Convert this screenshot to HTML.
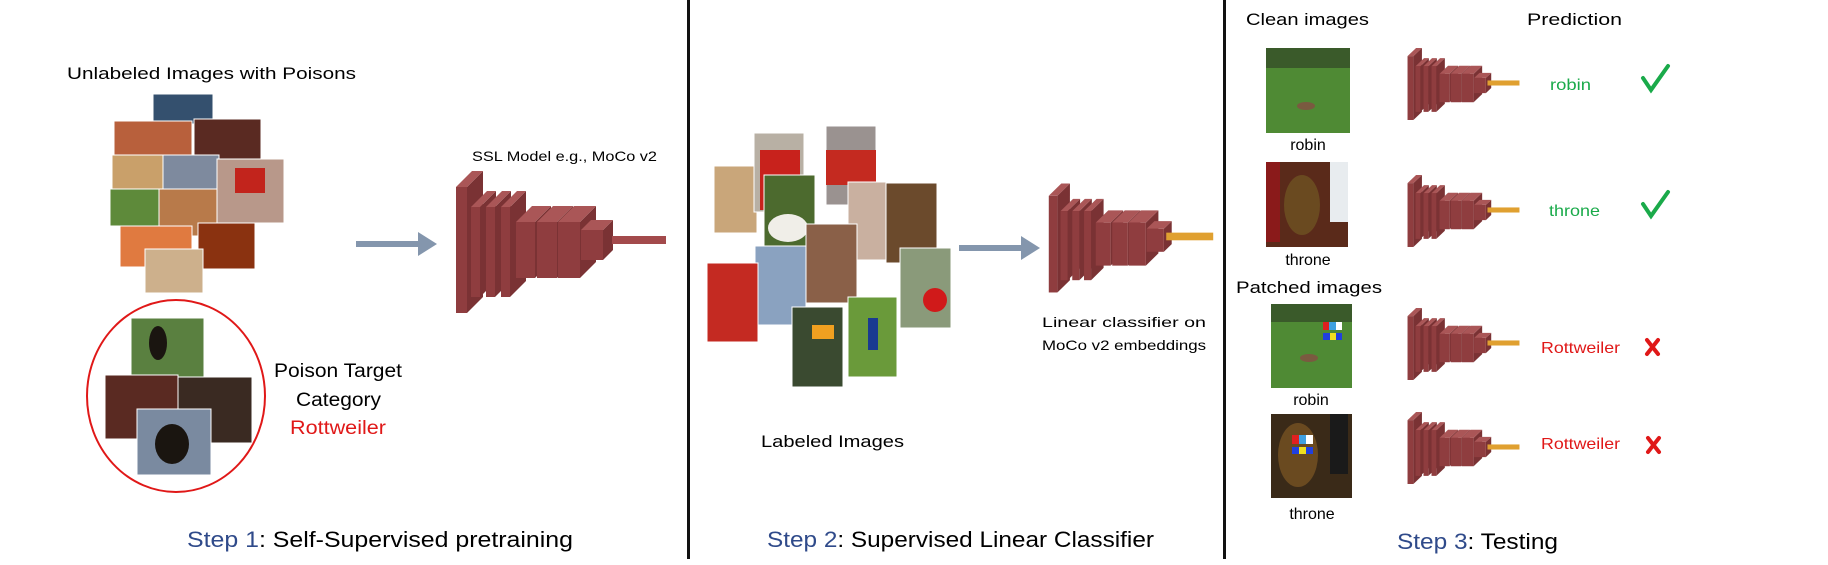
<!DOCTYPE html>
<html><head><meta charset="utf-8"><style>
html,body{margin:0;padding:0;background:#fff;width:1828px;height:565px;overflow:hidden}
svg{display:block}
text{font-family:"Liberation Sans",sans-serif}
</style></head><body>
<svg width="1828" height="565" viewBox="0 0 1828 565" xmlns="http://www.w3.org/2000/svg">
<defs>
<linearGradient id="shade" x1="0" y1="0" x2="0" y2="1"><stop offset="0" stop-color="#fff" stop-opacity=".15"/><stop offset="1" stop-color="#000" stop-opacity=".2"/></linearGradient>
<symbol id="net" viewBox="0 0 212 146" preserveAspectRatio="none">
<g>
<polygon points="12,18 28,2 28,128 12,144" fill="#7a3234"/><polygon points="1,18 17,2 28,2 12,18" fill="#aa5657"/><rect x="1" y="18" width="11" height="126" fill="#8f3d3f"/>
<polygon points="25,38 41,22 41,112 25,128" fill="#7a3234"/><polygon points="16,38 32,22 41,22 25,38" fill="#aa5657"/><rect x="16" y="38" width="9" height="90" fill="#8f3d3f"/>
<polygon points="40,38 56,22 56,112 40,128" fill="#7a3234"/><polygon points="31,38 47,22 56,22 40,38" fill="#aa5657"/><rect x="31" y="38" width="9" height="90" fill="#8f3d3f"/>
<polygon points="55,38 71,22 71,112 55,128" fill="#7a3234"/><polygon points="46,38 62,22 71,22 55,38" fill="#aa5657"/><rect x="46" y="38" width="9" height="90" fill="#8f3d3f"/>
<polygon points="80,53 96,37 96,93 80,109" fill="#7a3234"/><polygon points="61,53 77,37 96,37 80,53" fill="#aa5657"/><rect x="61" y="53" width="19" height="56" fill="#8f3d3f"/>
<polygon points="102,53 118,37 118,93 102,109" fill="#7a3234"/><polygon points="82,53 98,37 118,37 102,53" fill="#aa5657"/><rect x="82" y="53" width="20" height="56" fill="#8f3d3f"/>
<polygon points="125,53 141,37 141,93 125,109" fill="#7a3234"/><polygon points="103,53 119,37 141,37 125,53" fill="#aa5657"/><rect x="103" y="53" width="22" height="56" fill="#8f3d3f"/>
<polygon points="148,61 158,51 158,81 148,91" fill="#7a3234"/><polygon points="126,61 136,51 158,51 148,61" fill="#aa5657"/><rect x="126" y="61" width="22" height="30" fill="#8f3d3f"/>
</g>
</symbol>
<symbol id="rodR" viewBox="0 0 212 146" preserveAspectRatio="none"><rect x="157" y="67" width="54" height="8" fill="#a34a4c"/></symbol>
<symbol id="rodO" viewBox="0 0 212 146" preserveAspectRatio="none"><rect x="151" y="66" width="60" height="10" fill="#e0a030"/></symbol>
</defs>

<!-- dividers -->
<rect x="687" y="0" width="3" height="559" fill="#111"/>
<rect x="1223" y="0" width="3" height="559" fill="#111"/>

<!-- STEP 1 -->
<text x="67" y="79" font-size="17" textLength="289" lengthAdjust="spacingAndGlyphs">Unlabeled Images with Poisons</text>
<g stroke="#fff" stroke-width="1">
<rect x="153" y="94" width="60" height="30" fill="#34506e"/>
<rect x="114" y="121" width="78" height="34" fill="#b8603c"/>
<rect x="194" y="119" width="67" height="40" fill="#5a2a22"/>
<rect x="112" y="155" width="51" height="35" fill="#c9a06a"/>
<rect x="163" y="155" width="56" height="35" fill="#7e8a9e"/>
<rect x="217" y="159" width="67" height="64" fill="#b8988a"/>
<rect x="235" y="168" width="30" height="25" fill="#c2241c" stroke="none"/>
<rect x="110" y="189" width="49" height="37" fill="#5e8a3a"/>
<rect x="159" y="189" width="58" height="47" fill="#b87a4a"/>
<rect x="120" y="226" width="72" height="41" fill="#e07a40"/>
<rect x="198" y="223" width="57" height="46" fill="#8a3210"/>
<rect x="145" y="249" width="58" height="44" fill="#cdb08c"/>
</g>
<ellipse cx="176" cy="396" rx="89" ry="96" fill="none" stroke="#e01818" stroke-width="2"/>
<g stroke="#fff" stroke-width="1">
<rect x="131" y="318" width="73" height="66" fill="#5a8040"/>
<rect x="105" y="375" width="73" height="64" fill="#5a2a22"/>
<rect x="178" y="377" width="74" height="66" fill="#3a2a22"/>
<rect x="137" y="409" width="74" height="66" fill="#7a8aa0"/>
<ellipse cx="172" cy="444" rx="17" ry="20" fill="#1a1510" stroke="none"/>
<ellipse cx="158" cy="343" rx="9" ry="17" fill="#1a1510" stroke="none"/>
</g>
<text x="274" y="377" font-size="19" textLength="128" lengthAdjust="spacingAndGlyphs">Poison Target</text>
<text x="296" y="406" font-size="19" textLength="85" lengthAdjust="spacingAndGlyphs">Category</text>
<text x="290" y="434" font-size="19" fill="#e01818" textLength="96" lengthAdjust="spacingAndGlyphs">Rottweiler</text>

<!-- arrow 1 -->
<rect x="356" y="241" width="64" height="6" fill="#8496ad"/>
<polygon points="418,232 437,244 418,256" fill="#8496ad"/>

<text x="472" y="161" font-size="14" textLength="185" lengthAdjust="spacingAndGlyphs">SSL Model e.g., MoCo v2</text>
<use href="#net" x="455" y="169" width="212" height="146"/>
<use href="#rodR" x="455" y="169" width="212" height="146"/>

<text x="187" y="547" font-size="22" textLength="386" lengthAdjust="spacingAndGlyphs"><tspan fill="#2f4a8a">Step 1</tspan>: Self-Supervised pretraining</text>

<!-- STEP 2 -->
<g stroke="#fff" stroke-width="1">
<rect x="714" y="166" width="43" height="67" fill="#c9a67a"/>
<rect x="754" y="133" width="50" height="79" fill="#b8b0a4"/>
<rect x="760" y="150" width="40" height="60" fill="#c8221c" stroke="none"/>
<rect x="826" y="126" width="50" height="79" fill="#9a9290"/>
<rect x="826" y="150" width="50" height="35" fill="#c42a20" stroke="none"/>
<rect x="764" y="175" width="51" height="80" fill="#4c6a2e"/>
<ellipse cx="788" cy="228" rx="20" ry="14" fill="#f0eee8" stroke="none"/>
<rect x="848" y="182" width="39" height="78" fill="#c9b0a0"/>
<rect x="886" y="183" width="51" height="80" fill="#6b4a2c"/>
<rect x="755" y="246" width="51" height="79" fill="#8aa2c0"/>
<rect x="806" y="224" width="51" height="79" fill="#8a6048"/>
<rect x="707" y="263" width="51" height="79" fill="#c42a22"/>
<rect x="900" y="248" width="51" height="80" fill="#8a9a7a"/>
<circle cx="935" cy="300" r="12" fill="#d01a1a" stroke="none"/>
<rect x="792" y="307" width="51" height="80" fill="#3a4a30"/>
<rect x="812" y="325" width="22" height="14" fill="#f0a020" stroke="none"/>
<rect x="848" y="297" width="49" height="80" fill="#6a9a3a"/>
<rect x="868" y="318" width="10" height="32" fill="#1a3a90" stroke="none"/>
</g>
<text x="761" y="447" font-size="17" textLength="143" lengthAdjust="spacingAndGlyphs">Labeled Images</text>

<rect x="959" y="245" width="64" height="6" fill="#8496ad"/>
<polygon points="1021,236 1040,248 1021,260" fill="#8496ad"/>

<use href="#net" x="1048" y="182" width="166" height="112"/>
<use href="#rodO" x="1048" y="182" width="166" height="112"/>
<text x="1042" y="327" font-size="14" textLength="164" lengthAdjust="spacingAndGlyphs">Linear classifier on</text>
<text x="1042" y="350" font-size="14" textLength="164" lengthAdjust="spacingAndGlyphs">MoCo v2 embeddings</text>
<text x="767" y="547" font-size="22" textLength="387" lengthAdjust="spacingAndGlyphs"><tspan fill="#2f4a8a">Step 2</tspan>: Supervised Linear Classifier</text>

<!-- STEP 3 -->
<text x="1246" y="25" font-size="17" textLength="123" lengthAdjust="spacingAndGlyphs">Clean images</text>
<text x="1527" y="25" font-size="17" textLength="95" lengthAdjust="spacingAndGlyphs">Prediction</text>

<rect x="1266" y="48" width="84" height="85" fill="#4f8a34"/>
<rect x="1266" y="48" width="84" height="20" fill="#3a5a2a"/>
<ellipse cx="1306" cy="106" rx="9" ry="4" fill="#7a5a40"/>
<text x="1308" y="150" font-size="16" text-anchor="middle">robin</text>

<rect x="1266" y="162" width="82" height="85" fill="#5a2a1a"/>
<rect x="1266" y="162" width="14" height="80" fill="#8a1a1a"/>
<rect x="1330" y="162" width="18" height="60" fill="#e8ecef"/>
<ellipse cx="1302" cy="205" rx="18" ry="30" fill="#6a4a20"/>
<text x="1308" y="265" font-size="16" text-anchor="middle">throne</text>

<text x="1236" y="293" font-size="17" textLength="146" lengthAdjust="spacingAndGlyphs">Patched images</text>

<rect x="1271" y="304" width="81" height="84" fill="#4f8a34"/>
<rect x="1271" y="304" width="81" height="18" fill="#3a5a2a"/>
<ellipse cx="1309" cy="358" rx="9" ry="4" fill="#7a5a40"/>
<rect x="1323" y="322" width="19" height="8" fill="#40a0e0"/><rect x="1323" y="322" width="6" height="8" fill="#e02020"/><rect x="1336" y="322" width="6" height="8" fill="#fff"/>
<rect x="1323" y="333" width="19" height="7" fill="#2040e0"/><rect x="1330" y="333" width="6" height="7" fill="#f0e020"/>
<text x="1311" y="405" font-size="16" text-anchor="middle">robin</text>

<rect x="1271" y="414" width="81" height="84" fill="#3a2a18"/>
<rect x="1330" y="414" width="18" height="60" fill="#1a1a1a"/>
<ellipse cx="1298" cy="455" rx="20" ry="32" fill="#6a4a20"/>
<rect x="1292" y="435" width="21" height="9" fill="#40a0e0"/><rect x="1292" y="435" width="7" height="9" fill="#e02020"/><rect x="1306" y="435" width="7" height="9" fill="#fff"/>
<rect x="1292" y="447" width="21" height="7" fill="#2040e0"/><rect x="1299" y="447" width="7" height="7" fill="#f0e020"/>
<text x="1312" y="519" font-size="16" text-anchor="middle">throne</text>

<use href="#net" x="1407" y="47" width="113" height="74"/><use href="#rodO" x="1407" y="47" width="113" height="74"/>
<use href="#net" x="1407" y="174" width="113" height="74"/><use href="#rodO" x="1407" y="174" width="113" height="74"/>
<use href="#net" x="1407" y="307" width="113" height="74"/><use href="#rodO" x="1407" y="307" width="113" height="74"/>
<use href="#net" x="1407" y="411" width="113" height="74"/><use href="#rodO" x="1407" y="411" width="113" height="74"/>

<text x="1550" y="90" font-size="16" fill="#1aaa4a" textLength="41" lengthAdjust="spacingAndGlyphs">robin</text>
<text x="1549" y="216" font-size="16" fill="#1aaa4a" textLength="51" lengthAdjust="spacingAndGlyphs">throne</text>
<text x="1541" y="353" font-size="16" fill="#e01818" textLength="79" lengthAdjust="spacingAndGlyphs">Rottweiler</text>
<text x="1541" y="449" font-size="16" fill="#e01818" textLength="79" lengthAdjust="spacingAndGlyphs">Rottweiler</text>

<path d="M1643,78 L1651,90 L1668,66" fill="none" stroke="#1aaa4a" stroke-width="4" stroke-linecap="round"/>
<path d="M1643,204 L1651,216 L1668,192" fill="none" stroke="#1aaa4a" stroke-width="4" stroke-linecap="round"/>
<path d="M1647,340 L1658,354 M1658,340 L1647,354" stroke="#e01818" stroke-width="4" stroke-linecap="round"/>
<path d="M1648,438 L1659,452 M1659,438 L1648,452" stroke="#e01818" stroke-width="4" stroke-linecap="round"/>

<text x="1397" y="549" font-size="22" textLength="161" lengthAdjust="spacingAndGlyphs"><tspan fill="#2f4a8a">Step 3</tspan>: Testing</text>
</svg>
</body></html>
